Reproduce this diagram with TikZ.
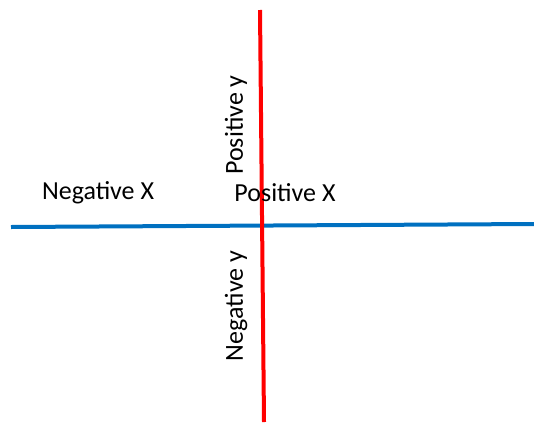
\documentclass[tikz,border=0pt]{standalone}
\usepackage{fontspec}
\setmainfont{Carlito}
\definecolor{axred}{RGB}{255,0,0}
\definecolor{axblue}{RGB}{0,112,192}
\begin{document}
\begin{tikzpicture}[x=1pt,y=-1pt,
  lbl/.style={inner sep=0pt,font=\fontsize{26}{30}\selectfont},
  axis/.style={line width=4pt}]
\useasboundingbox (0,0) rectangle (534,423);
\coordinate (bl) at (11,227);
\coordinate (br) at (534,224);
\coordinate (rt) at (260,10);
\coordinate (rb) at (264,422);
\draw[axis,axblue] (bl) -- (br);
\draw[axis,axred] (rt) -- (rb);
\node[lbl] (nx) at (98,193) {Negative X};
\node[lbl] (px) at (285,193) {Positive X};
\node[lbl,rotate=90] (py) at (236,125) {Positive y};
\node[lbl,rotate=90] (ny) at (236,306) {Negative y};
\end{tikzpicture}
\end{document}
